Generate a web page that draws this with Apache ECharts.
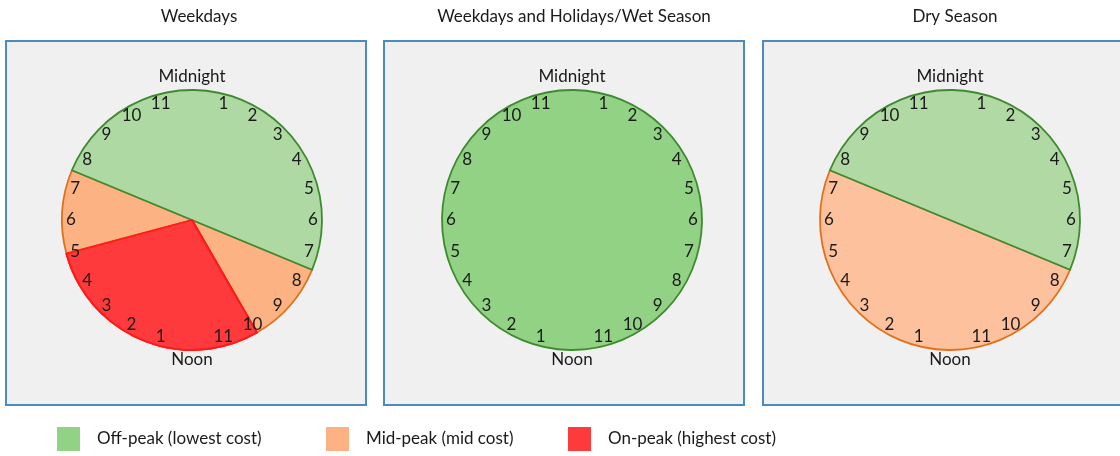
<!DOCTYPE html>
<html>
<head>
<meta charset="utf-8">
<script src="https://cdn.jsdelivr.net/npm/echarts@6/dist/echarts.min.js"></script>
<style>
html,body{margin:0;padding:0;background:#ffffff;}
#chart{width:1120px;height:456px;}
</style>
</head>
<body>
<div id="chart"></div>
<script>
// ---- data ----
const tariffNames = ['Off-peak (lowest cost)', 'Mid-peak (mid cost)', 'On-peak (highest cost)'];
const panelTitles = ['Weekdays', 'Weekdays and Holidays/Wet Season', 'Dry Season'];
// hour of day at which each panel's first period starts (clockwise from midnight)
const periodStartHour = 7.5;
// periods per panel: category index + duration in hours
const weekdaysCats = [1, 2, 1, 0];
const weekdaysHours = [2.5, 7, 2.5, 12];
const wetCats = [0];
const wetHours = [24];
const dryCats = [1, 0];
const dryHours = [12, 12];
const hourLabels = ['Midnight','1','2','3','4','5','6','7','8','9','10','11',
                    'Noon','1','2','3','4','5','6','7','8','9','10','11'];

// ---- styles ----
const FONT = 'Lato';
const panelCenters = [[192, 220], [572, 220], [950, 220]];
const boxes = [[6, 41, 360, 364], [384, 41, 360, 364], [763, 41, 362, 364]];
const titleX = [199, 574, 955];
const fillByPanel = [
  ['#afd9a3', '#fcb283', '#fe3a3c'],
  ['#92d285', '#fcb283', '#fe3a3c'],
  ['#b0d9a4', '#fec19e', '#fe3a3c']
];
const strokeCols = ['#3f8a30', '#e2701a', '#ff1a1a'];
const legendCols = ['#92d285', '#fdb283', '#fe3a3c'];
const R = 130;

const panels = [
  {cats: weekdaysCats, hours: weekdaysHours},
  {cats: wetCats, hours: wetHours},
  {cats: dryCats, hours: dryHours}
];

function labelRing(c, radius, pick) {
  return {
    type: 'pie', center: c, radius: radius, silent: true, z: 4,
    startAngle: 97.5, clockwise: true, animation: false,
    itemStyle: {color: 'rgba(0,0,0,0)', borderWidth: 0},
    emphasis: {disabled: true},
    labelLine: {show: false},
    label: {show: true, position: 'inside', rotate: 0, fontFamily: FONT, fontSize: 17, color: '#1a1a1a',
      formatter: (d) => (pick(d.dataIndex) ? d.name : '')},
    data: hourLabels.map((h) => ({name: h, value: 1}))
  };
}

const series = [];
panels.forEach((p, pi) => {
  const c = panelCenters[pi];
  const base = {
    type: 'pie', center: c, radius: [0, R], silent: true,
    startAngle: 90 - periodStartHour * 15, clockwise: true,
    label: {show: false}, labelLine: {show: false},
    emphasis: {disabled: true}, animation: false
  };
  series.push(Object.assign({}, base, {
    data: p.hours.map((h, i) => ({
      name: tariffNames[p.cats[i]], value: h,
      itemStyle: {color: fillByPanel[pi][p.cats[i]], borderColor: strokeCols[p.cats[i]], borderWidth: 1.8}
    }))
  }));
  // on-peak outline drawn on top
  series.push(Object.assign({}, base, {
    z: 3,
    data: p.hours.map((h, i) => ({
      name: tariffNames[p.cats[i]], value: h,
      itemStyle: {color: 'rgba(0,0,0,0)', borderColor: p.cats[i] === 2 ? strokeCols[2] : 'rgba(0,0,0,0)', borderWidth: p.cats[i] === 2 ? 1.8 : 0}
    }))
  }));
  series.push(labelRing(c, [R - 22, R - 2], (i) => i % 12 !== 0));   // hour numbers
  series.push(labelRing(c, [R - 4, R + 24], (i) => i === 0));        // Midnight
  series.push(labelRing(c, [R - 10, R + 24], (i) => i === 12));      // Noon
});

const option = {
  backgroundColor: '#ffffff',
  animation: false,
  title: panelTitles.map((t, i) => ({
    text: t, left: titleX[i], top: 8, textAlign: 'center', padding: 0,
    textStyle: {fontFamily: FONT, fontSize: 17, fontWeight: 'normal', color: '#1a1a1a'}
  })),
  legend: tariffNames.map((n, i) => ({
    left: [57, 326, 568][i], top: 427, itemWidth: 23, itemHeight: 24, itemGap: 0, padding: 0,
    icon: 'rect', selectedMode: false,
    textStyle: {fontFamily: FONT, fontSize: 17, color: '#1a1a1a', padding: [3, 0, 0, 12]},
    data: [{name: n, itemStyle: {color: legendCols[i], borderWidth: 0}}]
  })),
  graphic: boxes.map((b) => ({
    type: 'rect', z: -10, silent: true,
    shape: {x: b[0], y: b[1], width: b[2], height: b[3]},
    style: {fill: '#f0f0f0', stroke: '#4b8bbe', lineWidth: 2}
  })),
  series: series
};

const chart = echarts.init(document.getElementById('chart'), null, {renderer: 'canvas'});
chart.setOption(option);
</script>
</body>
</html>
